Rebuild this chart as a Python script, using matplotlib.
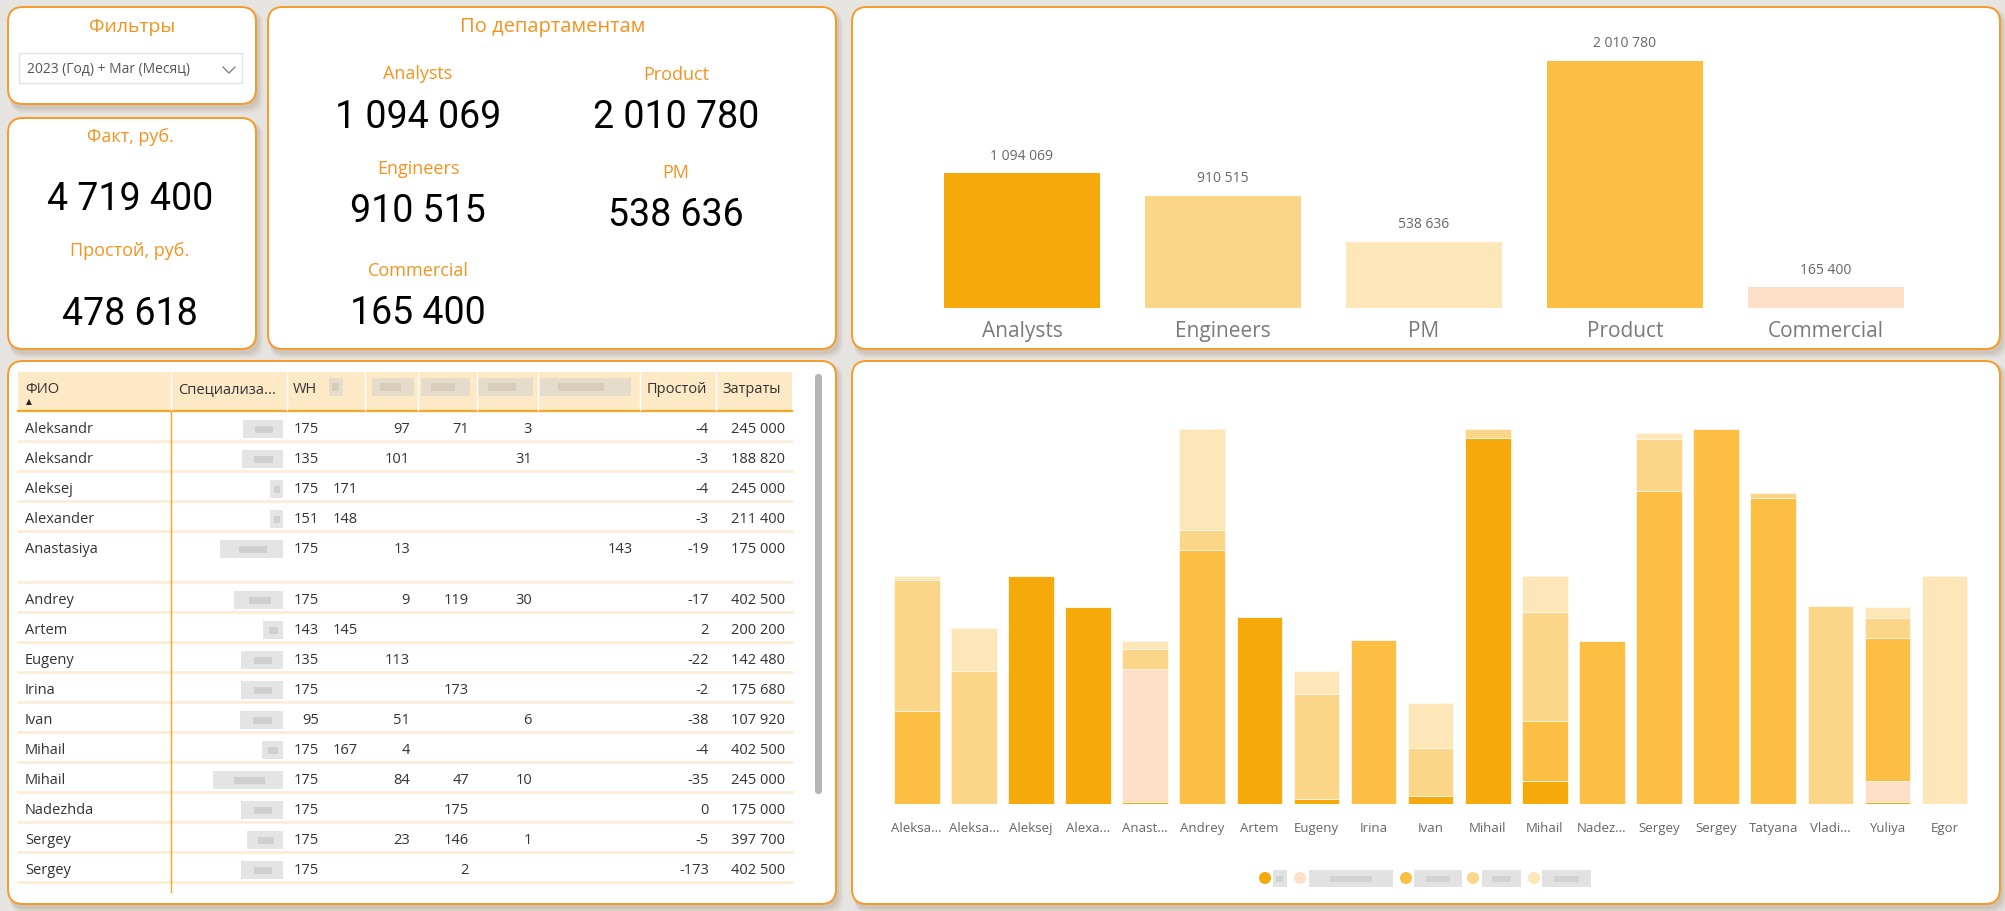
import matplotlib.pyplot as plt
from matplotlib.patches import FancyBboxPatch, Rectangle, Circle
import numpy as np

plt.rcParams['font.family'] = ['Open Sans', 'DejaVu Sans']

# ---- data ----
fact_total = 4719400
idle_total = 478618

dept_names = ['Analysts', 'Engineers', 'PM', 'Product', 'Commercial']
dept_values = [1094069, 910515, 538636, 2010780, 165400]
dept_colors = ['#f5a90a', '#fbd688', '#fde6b8', '#fcbf43', '#fedfc8']

people = ['Aleksa...', 'Aleksa...', 'Aleksej', 'Alexa...', 'Anast...', 'Andrey', 'Artem',
          'Eugeny', 'Irina', 'Ivan', 'Mihail', 'Mihail', 'Nadez...', 'Sergey', 'Sergey',
          'Tatyana', 'Vladi...', 'Yuliya', 'Egor']
# stacked cost per person, bottom to top
cost_analysts = [0, 0, 245000, 211400, 1800, 0, 200200, 5400, 0, 8900, 393200, 24300,
                 0, 0, 0, 0, 0, 2150, 0]
cost_commercial = [0, 0, 0, 0, 143100, 0, 0, 0, 0, 0, 0, 0,
                   0, 0, 0, 0, 0, 22550, 0]
cost_product = [99500, 0, 0, 0, 0, 273000, 0, 0, 175680, 0, 0, 65100,
                175000, 336400, 402500, 328800, 0, 153850, 0]
cost_engineers = [141300, 143000, 0, 0, 21300, 21500, 0, 113100, 0, 51100, 9300, 117000,
                  0, 55500, 0, 5000, 212500, 21470, 0]
cost_pm = [4200, 45820, 0, 0, 8800, 108000, 0, 23980, 0, 47920, 0, 38600,
           0, 5800, 0, 0, 0, 11440, 245000]
stack_series = [cost_analysts, cost_commercial, cost_product, cost_engineers, cost_pm]
stack_colors = ['#f5a90a', '#fedfc8', '#fcbf43', '#fbd688', '#fde6b8']

# table
t_names = ['Aleksandr', 'Aleksandr', 'Aleksej', 'Alexander', 'Anastasiya', 'Andrey', 'Artem',
           'Eugeny', 'Irina', 'Ivan', 'Mihail', 'Mihail', 'Nadezhda', 'Sergey', 'Sergey']
t_wh = ['175', '135', '175', '151', '175', '175', '143', '135', '175', '95', '175', '175',
        '175', '175', '175']
t_c4 = ['', '', '171', '148', '', '', '145', '', '', '', '167', '', '', '', '']
t_c5 = ['97', '101', '', '', '13', '9', '', '113', '', '51', '4', '84', '', '23', '']
t_c6 = ['71', '', '', '', '', '119', '', '', '173', '', '', '47', '175', '146', '2']
t_c7 = ['3', '31', '', '', '', '30', '', '', '', '6', '', '10', '', '1', '']
t_c8 = ['', '', '', '', '143', '', '', '', '', '', '', '', '', '', '']
t_idle = ['-4', '-3', '-4', '-3', '-19', '-17', '2', '-22', '-2', '-38', '-4', '-35', '0',
          '-5', '-173']
t_cost = ['245 000', '188 820', '245 000', '211 400', '175 000', '402 500', '200 200',
          '142 480', '175 680', '107 920', '402 500', '245 000', '175 000', '397 700',
          '402 500']

W, H = 2005, 912
ORANGE = '#f5931f'
BORDER = '#f59a2a'
NUMFONT = 'Roboto'


def fmt(v):
    return f"{v:,}".replace(',', ' ')


def ax_rect(x0, y0, x1, y1):
    return [x0 / W, 1 - y1 / H, (x1 - x0) / W, (y1 - y0) / H]


fig = plt.figure(figsize=(W / 100, H / 100), dpi=100)
fig.patch.set_facecolor('#e6e4e1')
bg = fig.add_axes([0, 0, 1, 1])
bg.set_xlim(0, W)
bg.set_ylim(H, 0)
bg.axis('off')


def panel(x0, y0, x1, y1, r=15):
    for k, a in [(7, 0.10), (5, 0.14), (3, 0.18)]:
        bg.add_patch(FancyBboxPatch((x0 + 2, y0 + 3), x1 - x0 + k - 2, y1 - y0 + k - 1,
                                    boxstyle=f"round,pad=0,rounding_size={r}",
                                    fc='#a89278', ec='none', alpha=a))
    bg.add_patch(FancyBboxPatch((x0, y0), x1 - x0, y1 - y0,
                                boxstyle=f"round,pad=0,rounding_size={r}",
                                fc='white', ec=BORDER, lw=1.4))


panel(8, 8, 256, 105)
panel(8, 119, 256, 350)
panel(268, 8, 836, 350)
panel(852, 8, 2000, 350)
panel(8, 362, 836, 905)
panel(852, 362, 2000, 905)

# filter panel
bg.text(132, 27, 'Фильтры', color=ORANGE, fontsize=14, ha='center', va='center')
bg.add_patch(Rectangle((19, 54), 223, 30, fc='white', ec='#e1e1e1', lw=1))
bg.text(27, 70, '2023 (Год) + Mar (Месяц)', color='#555555', fontsize=10, va='center')
bg.plot([223, 229, 235], [68, 74, 68], color='#777777', lw=0.9)

# fact panel
bg.text(130, 137, 'Факт, руб.', color=ORANGE, fontsize=13, ha='center', va='center')
bg.text(130, 200, fmt(fact_total), fontsize=27, ha='center', va='center', family=NUMFONT)
bg.text(130, 251, 'Простой, руб.', color=ORANGE, fontsize=13, ha='center', va='center')
bg.text(130, 315, fmt(idle_total), fontsize=27, ha='center', va='center', family=NUMFONT)

# department panel
bg.text(553, 27, 'По департаментам', color=ORANGE, fontsize=14.5, ha='center', va='center')
kpi_pos = {'Analysts': (418, 74), 'Product': (676, 75), 'Engineers': (418, 169),
           'PM': (676, 173), 'Commercial': (418, 271)}
for name, val in zip(dept_names, dept_values):
    cx, cy = kpi_pos[name]
    bg.text(cx, cy, name, color=ORANGE, fontsize=13, ha='center', va='center')
    bg.text(cx, cy + 43, fmt(val), fontsize=27, ha='center', va='center', family=NUMFONT)

# top bar chart
ax1 = fig.add_axes(ax_rect(921.5, 30, 1926.5, 308.7))
x1 = np.arange(len(dept_names))
ax1.bar(x1, dept_values, width=0.773, color=dept_colors)
ax1.set_xlim(-0.5, len(dept_names) - 0.5)
ax1.set_ylim(0, max(dept_values) * (308.7 - 30) / 247)
for xi, v in zip(x1, dept_values):
    ax1.annotate(fmt(v), (xi, v), xytext=(0, 13), textcoords='offset points',
                 ha='center', va='center', fontsize=10, color='#666666')
ax1.set_xticks(x1)
ax1.set_xticklabels(dept_names, fontsize=15, color='#7a7a7a')
ax1.tick_params(axis='x', length=0, pad=9)
ax1.set_yticks([])
for s in ax1.spines.values():
    s.set_visible(False)
ax1.patch.set_alpha(0)

# bottom stacked chart
ax2 = fig.add_axes(ax_rect(888.2, 420, 1973.1, 805))
x2 = np.arange(len(people))
bottom = np.zeros(len(people))
for vals, col in zip(stack_series, stack_colors):
    vals = np.array(vals, dtype=float)
    ax2.bar(x2, vals, bottom=bottom, width=0.8, color=col, edgecolor='#fff6e8', lw=0.6)
    bottom += vals
ax2.set_xlim(-0.5, len(people) - 0.5)
ax2.set_ylim(0, 402500 * 385 / 375)
ax2.set_xticks(x2)
ax2.set_xticklabels(people, fontsize=9.5, color='#666666')
ax2.tick_params(axis='x', length=0, pad=12)
ax2.set_yticks([])
for s in ax2.spines.values():
    s.set_visible(False)
ax2.patch.set_alpha(0)

# legend (labels are blurred in the source)
leg_x = [1265, 1300, 1406, 1473, 1534]
leg_blur = [(1273, 14), (1309, 84), (1414, 48), (1482, 39), (1542, 49)]
for lx, col, (bx, bw) in zip(leg_x, stack_colors, leg_blur):
    bg.add_patch(Circle((lx, 879), 6, fc=col, ec='none'))
    bg.add_patch(Rectangle((bx, 871), bw, 17, fc='#e2e2e2', ec='none'))
    bg.add_patch(Rectangle((bx + bw * 0.25, 877), bw * 0.5, 6, fc='#d2d2d2', ec='none'))

# table
bg.add_patch(Rectangle((18, 373), 774, 39, fc='#fde9c6', ec='none'))
bg.plot([18, 792], [412, 412], color='#f5a623', lw=1.6)
for sx in [171, 287, 365, 418, 477, 538, 640, 716]:
    bg.plot([sx, sx], [373, 411], color='white', lw=1)
bg.text(25, 390, 'ФИО', fontsize=10.5, color='#333333', va='center')
bg.text(29, 402, '▲', fontsize=5.5, color='#222222', va='center', ha='center',
        family='DejaVu Sans')
bg.text(178, 390, 'Специализа...', fontsize=10.5, color='#333333', va='center')
bg.text(293, 390, 'WH', fontsize=10.5, color='#333333', va='center')
bg.text(647, 390, 'Простой', fontsize=10.5, color='#333333', va='center')
bg.text(722, 390, 'Затраты', fontsize=10.5, color='#333333', va='center')
for hx, hw in [(329, 14), (372, 42), (421, 49), (477, 56), (540, 91)]:
    bg.add_patch(Rectangle((hx, 379), hw, 18, fc='#e6dccb', ec='none'))
    bg.add_patch(Rectangle((hx + hw * 0.2, 384), hw * 0.5, 8, fc='#d8cdbb', ec='none'))

row_h = [30, 30, 30, 30, 51, 30, 30, 30, 30, 30, 30, 30, 30, 30, 30]
spec_w = [40, 41, 13, 13, 63, 49, 20, 42, 42, 43, 21, 70, 42, 36, 42]
cols = [(t_wh, 319), (t_c4, 358), (t_c5, 410), (t_c6, 469), (t_c7, 532), (t_c8, 633),
        (t_idle, 709), (t_cost, 785)]
y = 412
for i, name in enumerate(t_names):
    ty = y + 18
    bg.text(25, ty, name, fontsize=10.5, color='#333333', va='center')
    sw = spec_w[i]
    bg.add_patch(Rectangle((283 - sw, ty - 9), sw, 18, fc='#e4e4e4', ec='none'))
    bg.add_patch(Rectangle((283 - sw * 0.7, ty - 3), sw * 0.45, 7, fc='#cfcfcf', ec='none'))
    for col, rx in cols:
        if col[i]:
            bg.text(rx, ty, col[i], fontsize=10.5, color='#333333', va='center', ha='right')
    y += row_h[i]
    bg.plot([18, 792], [y, y], color='#fdebd2', lw=1.8)
bg.plot([171, 171], [412, 893], color='#f5a623', lw=1)
bg.add_patch(FancyBboxPatch((815, 375), 7, 420, boxstyle="round,pad=0,rounding_size=3",
                            fc='#b5b5b5', ec='none'))

fig.savefig('out.png', dpi=100, facecolor=fig.get_facecolor())
